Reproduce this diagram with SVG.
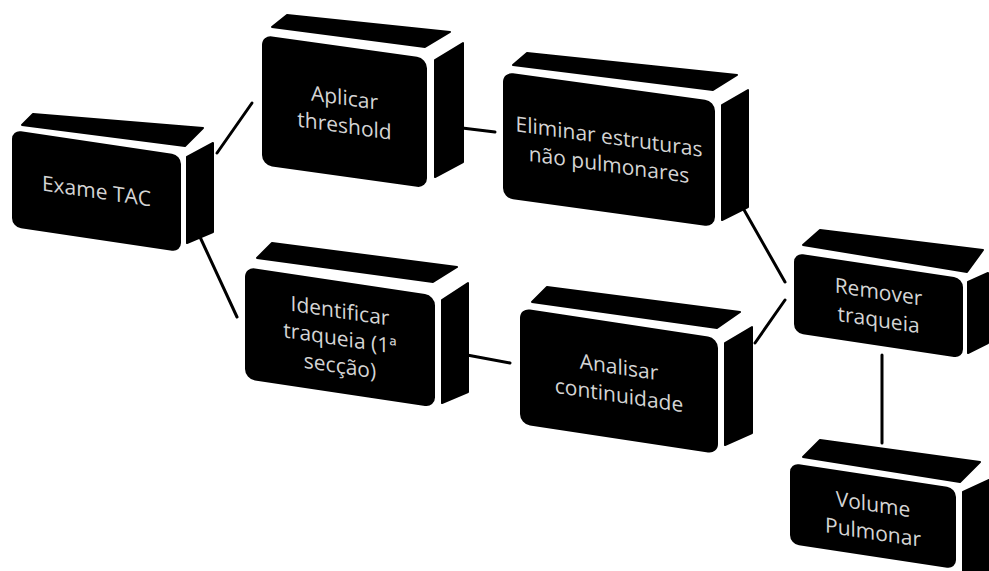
<svg xmlns="http://www.w3.org/2000/svg" width="989" height="571" viewBox="0 0 989 571">
<style>
.face{fill:#000;stroke:#000;stroke-width:2;stroke-linejoin:round}
.front{fill:#000}
.lbl{font-family:"Open Sans","Noto Sans","Liberation Sans",sans-serif;font-size:21px;fill:#d4d4d4;text-anchor:middle}
.conn{stroke:#000;stroke-width:3;fill:none;stroke-linecap:round}
</style>
<rect width="989" height="571" fill="#fff"/>
<g id="connectors">
<line class="conn" x1="217" y1="153" x2="252" y2="103"/>
<line class="conn" x1="200" y1="237" x2="237" y2="317"/>
<line class="conn" x1="462" y1="128" x2="495" y2="132"/>
<line class="conn" x1="743" y1="208" x2="785" y2="282"/>
<line class="conn" x1="785" y1="300" x2="755" y2="343"/>
<line class="conn" x1="467" y1="355" x2="510" y2="363"/>
<line class="conn" x1="882" y1="355" x2="882" y2="443"/>
</g>
<g id="exame-tac">
<polygon class="face" points="22,125 33,114 203,128 185,146"/>
<polygon class="face" points="187,157 213,143 213,232 187,243"/>
<g transform="translate(12,130) skewY(8.4)">
<rect class="front" width="169" height="97" rx="9"/>
<text class="lbl" x="84.5" y="56">Exame TAC</text>
</g>
</g>
<g id="aplicar-threshold">
<polygon class="face" points="272,27 287,15 450,32 425,47"/>
<polygon class="face" points="435,60 463,43 463,162 435,177"/>
<g transform="translate(262,35) skewY(8)">
<rect class="front" width="165" height="130" rx="10"/>
<text class="lbl" x="82.5" y="58.5">Aplicar</text>
<text class="lbl" x="82.5" y="86.5">threshold</text>
</g>
</g>
<g id="eliminar">
<polygon class="face" points="513,65 527,53 737,75 713,90"/>
<polygon class="face" points="722,105 748,90 748,207 722,220"/>
<g transform="translate(503,72) skewY(7.8)">
<rect class="front" width="212" height="126" rx="10"/>
<text class="lbl" x="106" y="57.5">Eliminar estruturas</text>
<text class="lbl" x="106" y="85.5">não pulmonares</text>
</g>
</g>
<g id="identificar">
<polygon class="face" points="257,258 272,243 457,267 433,282"/>
<polygon class="face" points="442,300 468,283 468,392 442,403"/>
<g transform="translate(245,267) skewY(8.5)">
<rect class="front" width="190" height="112" rx="10"/>
<text class="lbl" x="95" y="37">Identificar</text>
<text class="lbl" x="95" y="64.5">traqueia (1ª</text>
<text class="lbl" x="95" y="92">secção)</text>
</g>
</g>
<g id="analisar">
<polygon class="face" points="532,302 547,287 740,312 717,328"/>
<polygon class="face" points="725,343 752,327 752,433 725,445"/>
<g transform="translate(520,308) skewY(8.6)">
<rect class="front" width="198" height="116" rx="10"/>
<text class="lbl" x="99" y="51.5">Analisar</text>
<text class="lbl" x="99" y="79.5">continuidade</text>
</g>
</g>
<g id="remover">
<polygon class="face" points="803,245 820,230 983,250 967,272"/>
<polygon class="face" points="968,282 988,273 988,343 968,353"/>
<g transform="translate(794,253) skewY(8.5)">
<rect class="front" width="169" height="80" rx="9"/>
<text class="lbl" x="84.5" y="33.5">Remover</text>
<text class="lbl" x="84.5" y="61.5">traqueia</text>
</g>
</g>
<g id="volume-pulmonar">
<polygon class="face" points="803,457 820,440 980,462 960,482"/>
<polygon class="face" points="963,492 989,480 989,571 963,571"/>
<g transform="translate(790,463) skewY(8.6)">
<rect class="front" width="166" height="81" rx="9"/>
<text class="lbl" x="83" y="36">Volume</text>
<text class="lbl" x="83" y="64">Pulmonar</text>
</g>
</g>
</svg>
